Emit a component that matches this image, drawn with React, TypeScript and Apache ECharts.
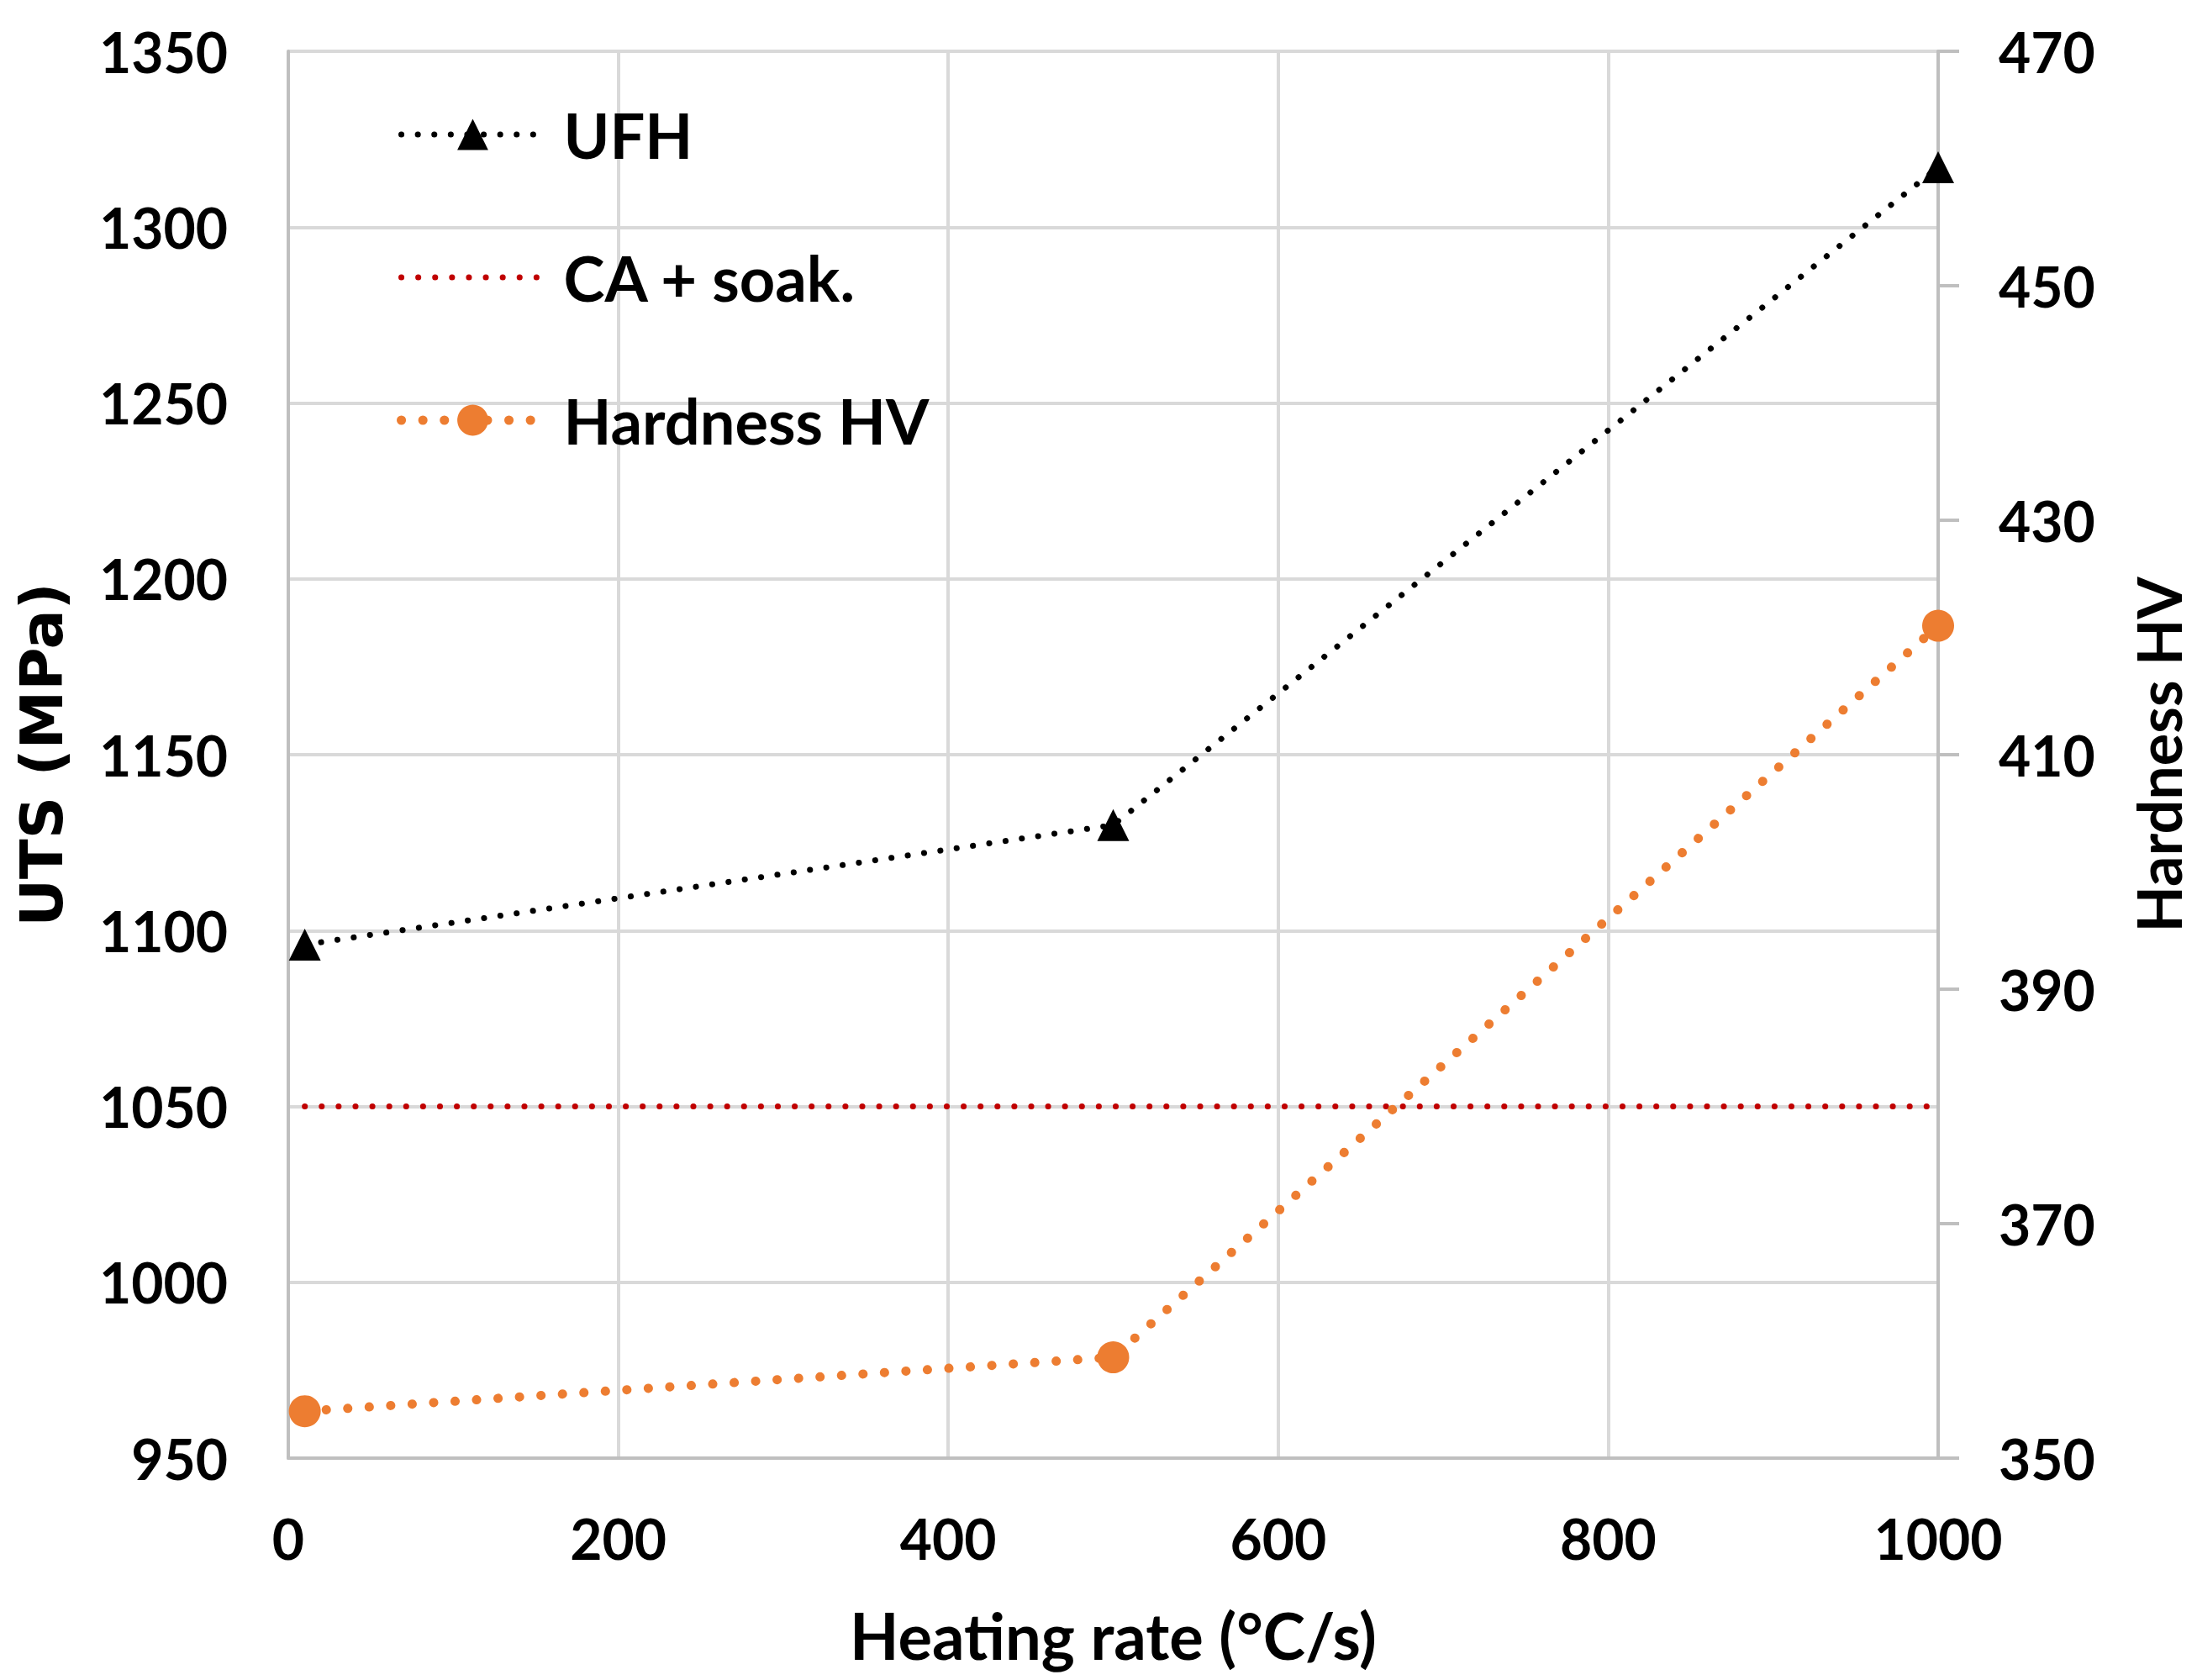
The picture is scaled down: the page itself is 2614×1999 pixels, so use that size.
import { useEffect, useRef } from 'react';
import * as echarts from 'echarts';

// values
const heatingRate = [10, 500, 1000];
const ufhUts = [1096, 1130, 1317];
const caSoakRate = [10, 1000];
const caSoakUts = [1050, 1050];
const hardnessHv = [354, 358.6, 421];

const seriesNames = ['UFH', 'CA + soak.', 'Hardness HV'];

const FONT = 'Lato';
const GRID_COLOR = '#d9d9d9';
const AXIS_COLOR = '#bfbfbf';

const pairs = (xs: number[], ys: number[]) => xs.map((x, i) => [x, ys[i]]);

export default function App() {
    const chartRef = useRef<HTMLDivElement>(null);

    useEffect(() => {
        if (!chartRef.current) return;
        document.body.style.margin = '0';

        const chart = echarts.init(chartRef.current, null, { renderer: 'svg' });

        const tickLabel = {
            fontFamily: FONT,
            fontWeight: 'bold',
            fontSize: 66,
            color: '#000',
            formatter: (v: number) => String(v),
        };

        const option = {
            animation: false,
            backgroundColor: '#fff',
            grid: { left: 343, right: 308, top: 61, bottom: 264 },
            legend: {
                orient: 'vertical',
                left: 467,
                top: 118,
                itemWidth: 170,
                itemHeight: 46,
                itemGap: 96,
                data: [
                    { name: seriesNames[0], lineStyle: { width: 7 } },
                    { name: seriesNames[1], lineStyle: { width: 7 }, itemStyle: { opacity: 0 } },
                    { name: seriesNames[2], lineStyle: { width: 11 } },
                ],
                textStyle: {
                    fontFamily: FONT,
                    fontWeight: 'bold',
                    fontSize: 74,
                    color: '#000',
                    padding: [0, 0, 0, 18],
                },
            },
            xAxis: {
                type: 'value',
                min: 0,
                max: 1000,
                interval: 200,
                name: 'Heating rate (°C/s)',
                nameLocation: 'middle',
                nameGap: 172,
                nameTextStyle: { fontFamily: FONT, fontWeight: 'bold', fontSize: 76, color: '#000' },
                axisLine: { show: true, lineStyle: { color: AXIS_COLOR, width: 4 } },
                axisTick: { show: false },
                axisLabel: { ...tickLabel, margin: 62 },
                splitLine: { show: true, lineStyle: { color: GRID_COLOR, width: 4 } },
            },
            yAxis: [
                {
                    type: 'value',
                    min: 950,
                    max: 1350,
                    interval: 50,
                    name: 'UTS (MPa)',
                    nameLocation: 'middle',
                    nameGap: 258,
                    nameTextStyle: { fontFamily: 'DejaVu Sans', fontWeight: 'bold', fontSize: 70, color: '#000' },
                    axisLine: { show: true, lineStyle: { color: AXIS_COLOR, width: 4 } },
                    axisTick: { show: false },
                    axisLabel: { ...tickLabel, margin: 72 },
                    splitLine: { show: true, lineStyle: { color: GRID_COLOR, width: 4 } },
                },
                {
                    type: 'value',
                    min: 350,
                    max: 470,
                    interval: 20,
                    position: 'right',
                    name: 'Hardness HV',
                    nameLocation: 'middle',
                    nameGap: 226,
                    nameTextStyle: { fontFamily: FONT, fontWeight: 'bold', fontSize: 72, color: '#000' },
                    axisLine: { show: true, lineStyle: { color: AXIS_COLOR, width: 4 } },
                    axisTick: { show: true, inside: false, length: 25, lineStyle: { color: AXIS_COLOR, width: 4 } },
                    axisLabel: { ...tickLabel, margin: 72 },
                    splitLine: { show: false },
                },
            ],
            series: [
                {
                    name: seriesNames[1],
                    type: 'line',
                    yAxisIndex: 0,
                    data: pairs(caSoakRate, caSoakUts),
                    symbol: 'none',
                    color: '#c00000',
                    lineStyle: { color: '#c00000', width: 7, type: [0.1, 20], cap: 'round' },
                    z: 2,
                },
                {
                    name: seriesNames[0],
                    type: 'line',
                    yAxisIndex: 0,
                    data: pairs(heatingRate, ufhUts),
                    symbol: 'triangle',
                    symbolSize: 38,
                    color: '#000',
                    itemStyle: { color: '#000' },
                    lineStyle: { color: '#000', width: 7, type: [0.1, 19.5], cap: 'round' },
                    z: 3,
                },
                {
                    name: seriesNames[2],
                    type: 'line',
                    yAxisIndex: 1,
                    data: pairs(heatingRate, hardnessHv),
                    symbol: 'circle',
                    symbolSize: 38,
                    color: '#ed7d31',
                    itemStyle: { color: '#ed7d31' },
                    lineStyle: { color: '#ed7d31', width: 11, type: [0.1, 25.5], cap: 'round' },
                    z: 4,
                },
            ],
        };

        chart.setOption(option);

        return () => {
            chart.dispose();
        };
    }, []);

    return <div ref={chartRef} style={{ width: 2614, height: 1999 }} />;
}
